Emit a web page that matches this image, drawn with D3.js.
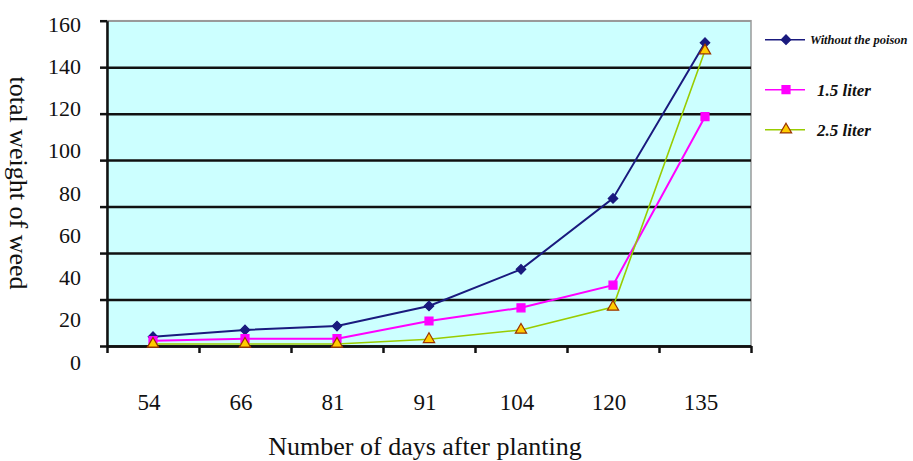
<!DOCTYPE html>
<html>
<head>
<meta charset="utf-8">
<script src="https://cdn.jsdelivr.net/npm/d3@7"></script>
<style>
	body { margin: 0; background: #fff; }
	svg text { font-family: "Liberation Serif", "Times New Roman", serif; fill: #111; }
	.legend-text { font-weight: bold; font-style: italic; }
</style>
</head>
<body>
<div id="chart"></div>
<script>
// days after planting (categories)
const days = ["54", "66", "81", "91", "104", "120", "135"];

// total weight of weed per treatment
const withoutPoison = [4.6, 7.9, 9.8, 19.7, 37.7, 72.6, 149.2];
const liter15 = [2.6, 3.6, 3.6, 12.3, 18.8, 29.9, 112.8];
const liter25 = [1, 1, 1, 3.3, 7.9, 19.2, 145.3];

// y tick labels as printed
const yTickLabels = [0, 20, 40, 60, 80, 100, 120, 140, 160];

const seriesNames = ["Without the poison", "1.5 liter", "2.5 liter"];

class WeedChart {
	constructor(parentElement) {
		this.parentElement = parentElement;
		this.initVis();
	}

	initVis() {
		let vis = this;

		vis.margin = {top: 20.7, right: 162, bottom: 115, left: 107};
		vis.width = 913 - vis.margin.left - vis.margin.right;
		vis.height = 461 - vis.margin.top - vis.margin.bottom;

		vis.svg = d3.select("#" + vis.parentElement).append("svg")
			.attr("width", 913)
			.attr("height", 461)
			.append("g")
			.attr("transform", "translate(" + vis.margin.left + "," + vis.margin.top + ")");

		// scales
		vis.x = d3.scaleBand().domain(days).range([0, vis.width]);
		vis.xEdge = d3.scaleLinear().domain([0, days.length]).range([0, vis.width]);
		vis.y = d3.scaleLinear().domain([0, 160]).range([vis.height, 0]);
		vis.yGrid = d3.scaleLinear().domain([0, 7]).range([vis.height, 0]);
		// printed labels sit a bit off the grid in the original
		vis.yLabel = d3.scaleLinear().domain([0, 160]).range([vis.height + 16, 3.3]);

		// plot background
		vis.svg.append("rect")
			.attr("width", vis.width)
			.attr("height", vis.height)
			.attr("fill", "#ccffff")
			.attr("stroke", "#9a9a9a")
			.attr("stroke-width", 1.5);

		// gridlines
		vis.svg.append("g")
			.attr("class", "grid")
			.call(d3.axisLeft(vis.yGrid).ticks(7).tickSize(-vis.width).tickFormat(""))
			.call(g => g.select(".domain").remove())
			.call(g => g.selectAll(".tick line")
				.attr("stroke", "#111")
				.attr("stroke-width", 2.5)
				.filter(d => d === 7).attr("stroke", "#9a9a9a").attr("stroke-width", 1.5));

		// axes
		vis.svg.append("g")
			.attr("class", "y-axis axis")
			.call(d3.axisLeft(vis.yGrid).ticks(7).tickSize(7).tickSizeOuter(0).tickFormat(""))
			.call(g => g.selectAll("path, line").attr("stroke", "#111").attr("stroke-width", 2.5));

		vis.svg.append("g")
			.attr("class", "x-axis axis")
			.attr("transform", "translate(0," + vis.height + ")")
			.call(d3.axisBottom(vis.xEdge).ticks(days.length).tickSize(7).tickSizeOuter(0).tickFormat(""))
			.call(g => g.selectAll("path, line").attr("stroke", "#111").attr("stroke-width", 2.5));

		// y tick labels
		vis.svg.append("g")
			.attr("class", "y-labels")
			.attr("transform", "translate(-26,0)")
			.call(d3.axisLeft(vis.yLabel).tickValues(yTickLabels).tickSize(0).tickPadding(0))
			.call(g => g.select(".domain").remove())
			.call(g => g.selectAll("text")
				.style("font-size", "22px")
				.style("font-family", "'Liberation Serif', 'Times New Roman', serif")
				.attr("fill", "#111"));

		// x tick labels
		vis.svg.append("g")
			.attr("class", "x-labels")
			.selectAll("text")
			.data(days)
			.join("text")
			.attr("x", d => vis.x(d) + vis.x.bandwidth() / 2 - 4)
			.attr("y", vis.height + 64)
			.attr("text-anchor", "middle")
			.style("font-size", "23px")
			.text(d => d);

		// axis titles
		vis.svg.append("text")
			.attr("x", vis.width / 2 - 4)
			.attr("y", vis.height + 109)
			.attr("text-anchor", "middle")
			.style("font-size", "26px")
			.text("Number of days after planting");

		vis.svg.append("text")
			.attr("transform", "translate(-97," + (183 - vis.margin.top) + ") rotate(90)")
			.attr("text-anchor", "middle")
			.style("font-size", "26px")
			.text("total weight of weed");

		vis.updateVis();
	}

	updateVis() {
		let vis = this;

		// diamonds are squares turned by 45 degrees
		vis.configs = [
			{name: seriesNames[0], values: withoutPoison, color: "#1a1a7e", width: 2, marker: d3.symbolSquare, rotate: 45, size: 45, fill: "#1a1a7e", stroke: "#1a1a7e"},
			{name: seriesNames[1], values: liter15, color: "#ff00ff", width: 2, marker: d3.symbolSquare, rotate: 0, size: 64, fill: "#ff00ff", stroke: "#ff00ff"},
			{name: seriesNames[2], values: liter25, color: "#99cc00", width: 1.6, marker: d3.symbolTriangle, rotate: 0, size: 55, fill: "#ffcc00", stroke: "#993300"}
		];

		let line = d3.line()
			.x((d, i) => vis.x(days[i]) + vis.x.bandwidth() / 2)
			.y(d => vis.y(d));

		vis.configs.forEach(function (cfg) {
			let g = vis.svg.append("g").attr("class", "series");

			g.append("path")
				.datum(cfg.values)
				.attr("fill", "none")
				.attr("stroke", cfg.color)
				.attr("stroke-width", cfg.width)
				.attr("d", line);

			g.selectAll(".marker")
				.data(cfg.values)
				.join("path")
				.attr("class", "marker")
				.attr("transform", (d, i) => "translate(" + (vis.x(days[i]) + vis.x.bandwidth() / 2) + "," + vis.y(d) + ") rotate(" + cfg.rotate + ")")
				.attr("d", d3.symbol().type(cfg.marker).size(cfg.size))
				.attr("fill", cfg.fill)
				.attr("stroke", cfg.stroke)
				.attr("stroke-width", 1.2);
		});

		// legend
		let legendY = [19, 69, 109];
		let legendFont = ["12.5px", "17px", "17px"];
		let legend = vis.svg.append("g")
			.attr("class", "legend")
			.attr("transform", "translate(" + (vis.width + 14) + ",0)");

		vis.configs.forEach(function (cfg, i) {
			let item = legend.append("g").attr("transform", "translate(0," + legendY[i] + ")");
			item.append("line")
				.attr("x1", 0)
				.attr("x2", 40)
				.attr("stroke", cfg.color)
				.attr("stroke-width", 1.5);
			item.append("path")
				.attr("transform", "translate(21,0) rotate(" + cfg.rotate + ")")
				.attr("d", d3.symbol().type(cfg.marker).size(cfg.size))
				.attr("fill", cfg.fill)
				.attr("stroke", cfg.stroke)
				.attr("stroke-width", 1.2);
			item.append("text")
				.attr("class", "legend-text")
				.attr("x", i === 0 ? 45 : 52)
				.attr("y", i === 0 ? 4 : 6)
				.style("font-size", legendFont[i])
				.text(cfg.name);
		});
	}
}

new WeedChart("chart");
</script>
</body>
</html>
